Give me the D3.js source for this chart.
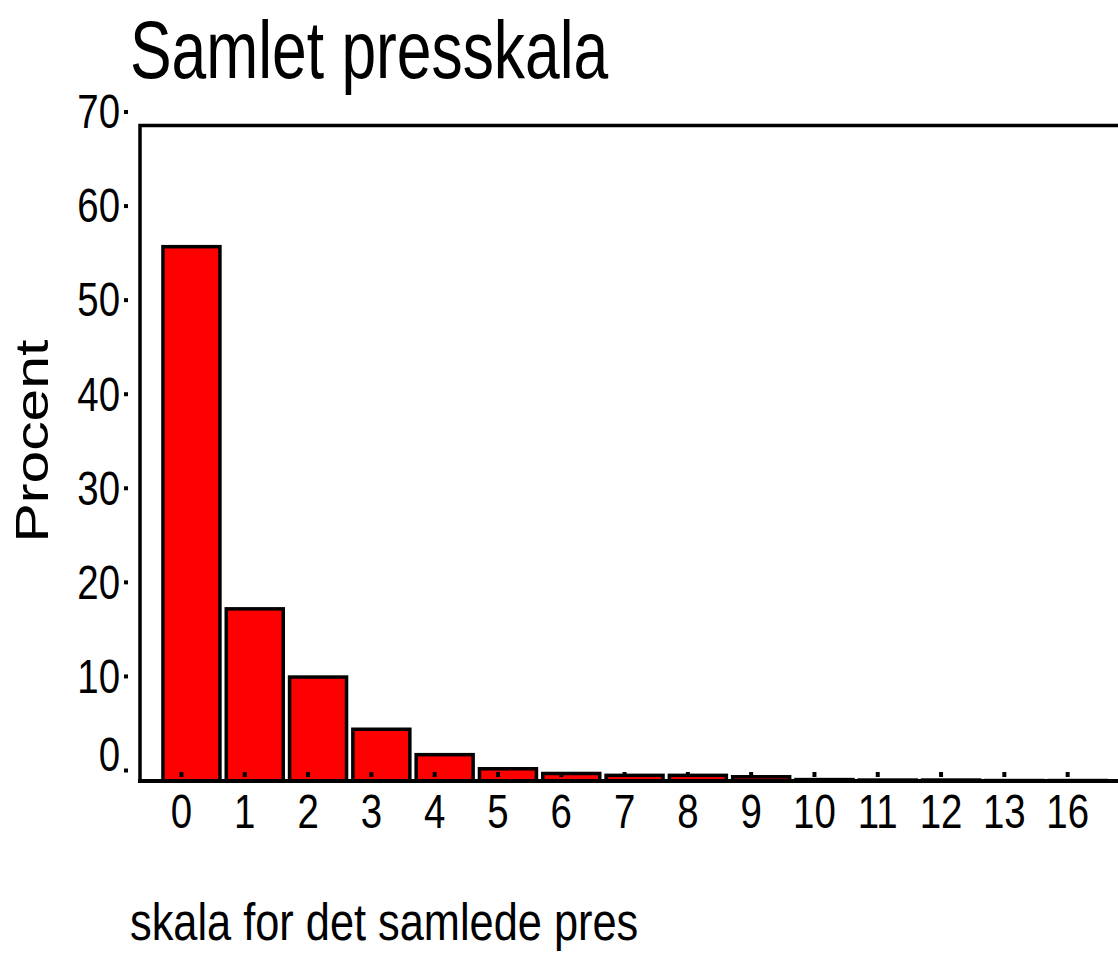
<!DOCTYPE html>
<html>
<head>
<meta charset="utf-8">
<script src="https://cdn.jsdelivr.net/npm/d3@7"></script>
<style>
  body { margin: 0; background: #fff; }
  .narrow { font-family: "Liberation Sans Narrow", "Liberation Sans", Arial, sans-serif; fill: #000; }
  .wide { font-family: "Liberation Sans", Arial, sans-serif; fill: #000; }
</style>
</head>
<body>
<svg id="chart"></svg>
<script>
// categories on the x axis (score values) and percent per category
var categories = ["0", "1", "2", "3", "4", "5", "6", "7", "8", "9", "10", "11", "12", "13", "16"];
var percents = [56.8, 18.3, 11.05, 5.5, 2.8, 1.3, 0.8, 0.6, 0.6, 0.45, 0.15, 0.1, 0.1, 0.05, 0.05];
var yTicks = [0, 10, 20, 30, 40, 50, 60, 70];

var data = categories.map(function (c, i) {
  return { cat: c, pct: percents[i] };
});

var screen = { width: 1118, height: 955 };
var svg = d3.select("#chart").attr("width", screen.width).attr("height", screen.height);

// the original uses a condensed face; squeeze the regular one horizontally
var squeeze = 0.8;

// plot frame
var frame = { left: 140, bottom: 781 };

var x = d3.scaleBand().domain(categories).range([159.8, 1109.3]).paddingInner(0.1).paddingOuter(0.05);
var y = d3.scaleLinear().domain([0, 70]).range([frame.bottom, 122.5]);

// bars
svg.append("g")
  .selectAll("rect")
  .data(data)
  .enter()
  .append("rect")
  .attr("x", function (d) { return x(d.cat); })
  .attr("y", function (d) { return y(d.pct); })
  .attr("width", x.bandwidth())
  .attr("height", function (d) { return y(0) - y(d.pct); })
  .attr("fill", "#ff0000")
  .attr("stroke", "#000")
  .attr("stroke-width", 3.5);

// frame lines
svg.append("path")
  .attr("d", "M" + frame.left + "," + frame.bottom + "V" + (y(70) + 3) + "H" + (screen.width + 10))
  .attr("fill", "none")
  .attr("stroke", "#000")
  .attr("stroke-width", 3.5);
svg.append("line")
  .attr("x1", frame.left - 2).attr("x2", screen.width + 10)
  .attr("y1", frame.bottom).attr("y2", frame.bottom)
  .attr("stroke", "#000")
  .attr("stroke-width", 4);

// y axis: small square ticks, labels to the left (drawn a bit above the bar scale, as in the original)
var yAxis = d3.axisLeft(y).tickValues(yTicks).tickSize(4).tickPadding(4).tickFormat(d3.format("d"));
var yg = svg.append("g")
  .attr("transform", "translate(128,-11)")
  .call(yAxis);
yg.select(".domain").remove();
yg.selectAll(".tick line").attr("stroke", "#000").attr("stroke-width", 4);
yg.selectAll(".tick text")
  .attr("class", "narrow")
  .style("font-size", "48px")
  .attr("fill", "#000")
  .attr("x", -8 / squeeze)
  .attr("transform", "scale(" + squeeze + ",1)")
  .attr("dy", function (d) { return d === 0 ? "0.0em" : "0.34em"; });

// x axis: tick dots sitting just above the bottom line, labels below
var xAxis = d3.axisBottom(x).tickSize(5).tickPadding(17);
var xg = svg.append("g")
  .attr("transform", "translate(-10,772)")
  .call(xAxis);
xg.select(".domain").remove();
xg.selectAll(".tick line").attr("stroke", "#000").attr("stroke-width", 4);
xg.selectAll(".tick text")
  .attr("class", "narrow")
  .style("font-size", "48px")
  .attr("fill", "#000")
  .attr("transform", "scale(" + squeeze + ",1)");

// titles
svg.append("text")
  .attr("class", "narrow")
  .attr("transform", "translate(130,78) scale(0.77,1)")
  .style("font-size", "81px")
  .text("Samlet presskala");

svg.append("text")
  .attr("class", "narrow")
  .attr("transform", "translate(130,940) scale(0.85,1)")
  .style("font-size", "51px")
  .text("skala for det samlede pres");

svg.append("text")
  .attr("class", "wide")
  .attr("text-anchor", "middle")
  .attr("transform", "translate(48,441) rotate(-90) scale(1.28,1)")
  .style("font-size", "46px")
  .text("Procent");
</script>
</body>
</html>
